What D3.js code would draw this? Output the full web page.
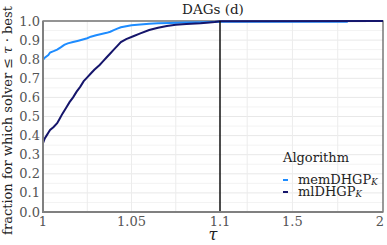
<!DOCTYPE html>
<html>
<head>
<meta charset="utf-8">
<script src="https://cdn.jsdelivr.net/npm/d3@7"></script>
<style>
  body { margin: 0; background: #fff; }
  svg text { font-family: "DejaVu Serif", "Liberation Serif", serif; }
</style>
</head>
<body>
<div id="chart"></div>
<script>
// performance profile values
var memTau  = [1.000, 1.001, 1.003, 1.004, 1.006, 1.008, 1.010, 1.012, 1.014, 1.017, 1.020, 1.022, 1.025, 1.027, 1.030, 1.033, 1.036, 1.038, 1.040, 1.042, 1.044, 1.047, 1.050, 1.055, 1.060, 1.065, 1.072, 1.080, 1.090, 1.100, 1.800, 1.800, 2.000];
var memFrac = [0.796, 0.808, 0.822, 0.835, 0.842, 0.850, 0.862, 0.875, 0.883, 0.890, 0.897, 0.902, 0.910, 0.918, 0.925, 0.932, 0.938, 0.944, 0.952, 0.960, 0.967, 0.973, 0.978, 0.982, 0.986, 0.988, 0.990, 0.992, 0.994, 0.996, 0.996, 1.000, 1.000];

var mlTau  = [1.000, 1.001, 1.002, 1.003, 1.004, 1.006, 1.008, 1.0095, 1.011, 1.013, 1.015, 1.017, 1.019, 1.021, 1.023, 1.025, 1.027, 1.029, 1.032, 1.034, 1.036, 1.038, 1.040, 1.042, 1.044, 1.047, 1.051, 1.055, 1.060, 1.065, 1.070, 1.075, 1.081, 1.089, 1.094, 1.097, 1.100, 2.000];
var mlFrac = [0.360, 0.385, 0.400, 0.415, 0.430, 0.445, 0.465, 0.490, 0.515, 0.545, 0.575, 0.600, 0.630, 0.655, 0.685, 0.705, 0.725, 0.745, 0.770, 0.790, 0.810, 0.830, 0.850, 0.870, 0.890, 0.905, 0.920, 0.935, 0.953, 0.965, 0.974, 0.980, 0.984, 0.988, 0.992, 0.995, 0.999, 1.000];

var xTicks = [1, 1.05, 1.1, 1.5, 2];
var xTickLabels = ["1", "1.05", "1.1", "1.5", "2"];
var xMinor = [1.025, 1.05, 1.075, 1.25, 1.5, 1.75];
var yTicks = [0, 0.1, 0.2, 0.3, 0.4, 0.5, 0.6, 0.7, 0.8, 0.9, 1.0];
var yMinor = [0.05, 0.15, 0.25, 0.35, 0.45, 0.55, 0.65, 0.75, 0.85, 0.95];

var seriesNames = ["memDHGP", "mlDHGP"];
var seriesColors = ["#1e8cff", "#15156b"];

var W = 387, H = 245;
var pl = 43, pr = 383, pt = 21, pb = 212;

var svg = d3.select("#chart").append("svg")
  .attr("width", W).attr("height", H);

// broken x scale: 1..1.1 stretched, 1.1..2 compressed
var x = d3.scaleLinear().domain([1, 1.1, 2]).range([pl, 220, pr]);
var y = d3.scaleLinear().domain([0, 1]).range([pb, pt]);

// grid
svg.append("g").selectAll("line")
  .data(yMinor).enter().append("line")
  .attr("x1", pl).attr("x2", pr)
  .attr("y1", d => y(d)).attr("y2", d => y(d))
  .attr("stroke", "#f3f3f3").attr("stroke-width", 1);
svg.append("g").selectAll("line")
  .data(yTicks).enter().append("line")
  .attr("x1", pl).attr("x2", pr)
  .attr("y1", d => y(d)).attr("y2", d => y(d))
  .attr("stroke", "#e8e8e8").attr("stroke-width", 1);
svg.append("g").selectAll("line")
  .data(xMinor).enter().append("line")
  .attr("x1", d => x(d)).attr("x2", d => x(d))
  .attr("y1", pt).attr("y2", pb)
  .attr("stroke", "#ececec").attr("stroke-width", 1);

// frame
svg.append("rect")
  .attr("x", pl).attr("y", pt)
  .attr("width", pr - pl).attr("height", pb - pt)
  .attr("fill", "none").attr("stroke", "#555").attr("stroke-width", 1.2);

// lines
var line = d3.line()
  .x(d => x(d[0])).y(d => y(d[1]));

var memData = memTau.map((t, i) => [t, memFrac[i]]);
var mlData = mlTau.map((t, i) => [t, mlFrac[i]]);

svg.append("path").datum(memData)
  .attr("d", line).attr("fill", "none")
  .attr("stroke", seriesColors[0]).attr("stroke-width", 2);
svg.append("path").datum(mlData)
  .attr("d", line).attr("fill", "none")
  .attr("stroke", seriesColors[1]).attr("stroke-width", 2);

// vertical marker at 1.1
svg.append("line")
  .attr("x1", x(1.1)).attr("x2", x(1.1))
  .attr("y1", pt).attr("y2", pb)
  .attr("stroke", "#111").attr("stroke-width", 1.5);

// axes (left / bottom gray lines)
svg.append("line").attr("x1", pl).attr("x2", pl)
  .attr("y1", pt).attr("y2", pb + 1)
  .attr("stroke", "#808080").attr("stroke-width", 2);
svg.append("line").attr("x1", pl - 1).attr("x2", pr)
  .attr("y1", pb).attr("y2", pb)
  .attr("stroke", "#808080").attr("stroke-width", 2);

// tick labels
svg.append("g").selectAll("text")
  .data(yTicks).enter().append("text")
  .attr("x", pl - 3).attr("y", d => y(d) + 4.5)
  .attr("text-anchor", "end")
  .attr("font-size", 13).attr("fill", "#555")
  .text(d => d.toFixed(1));
svg.append("g").selectAll("text")
  .data(xTicks).enter().append("text")
  .attr("x", (d, i) => x(d) + (i === xTicks.length - 1 ? -3 : 0))
  .attr("y", pb + 14)
  .attr("text-anchor", "middle")
  .attr("font-size", 13).attr("fill", "#555")
  .text((d, i) => xTickLabels[i]);

// title
svg.append("text")
  .attr("x", 213).attr("y", 14)
  .attr("text-anchor", "middle").attr("font-size", 13.5).attr("fill", "#222")
  .text("DAGs (d)");

// x label
svg.append("text")
  .attr("x", 213).attr("y", 240)
  .attr("text-anchor", "middle").attr("font-size", 16)
  .attr("font-style", "italic").attr("fill", "#222")
  .text("τ");

// y label
var yl = svg.append("text")
  .attr("transform", "translate(12," + ((pt + pb) / 2 + 4) + ") rotate(-90)")
  .attr("text-anchor", "middle").attr("font-size", 13).attr("fill", "#222");
yl.append("tspan").text("fraction for which solver ≤ ");
yl.append("tspan").attr("font-style", "italic").text("τ");
yl.append("tspan").text(" · best");

// legend
var lg = svg.append("g").attr("transform", "translate(283,0)");
lg.append("text").attr("x", 0).attr("y", 162)
  .attr("font-size", 13).attr("fill", "#222").text("Algorithm");
seriesNames.forEach(function (name, i) {
  var yy = 180 + i * 12;
  lg.append("line").attr("x1", 0).attr("x2", 5)
    .attr("y1", yy).attr("y2", yy)
    .attr("stroke", seriesColors[i]).attr("stroke-width", 2);
  var t = lg.append("text").attr("x", 15).attr("y", yy + 4)
    .attr("font-size", 13).attr("fill", "#222");
  t.append("tspan").text(name);
  t.append("tspan").attr("font-style", "italic").attr("font-size", 8.5)
    .attr("dy", 1).text("K");
});
</script>
</body>
</html>
